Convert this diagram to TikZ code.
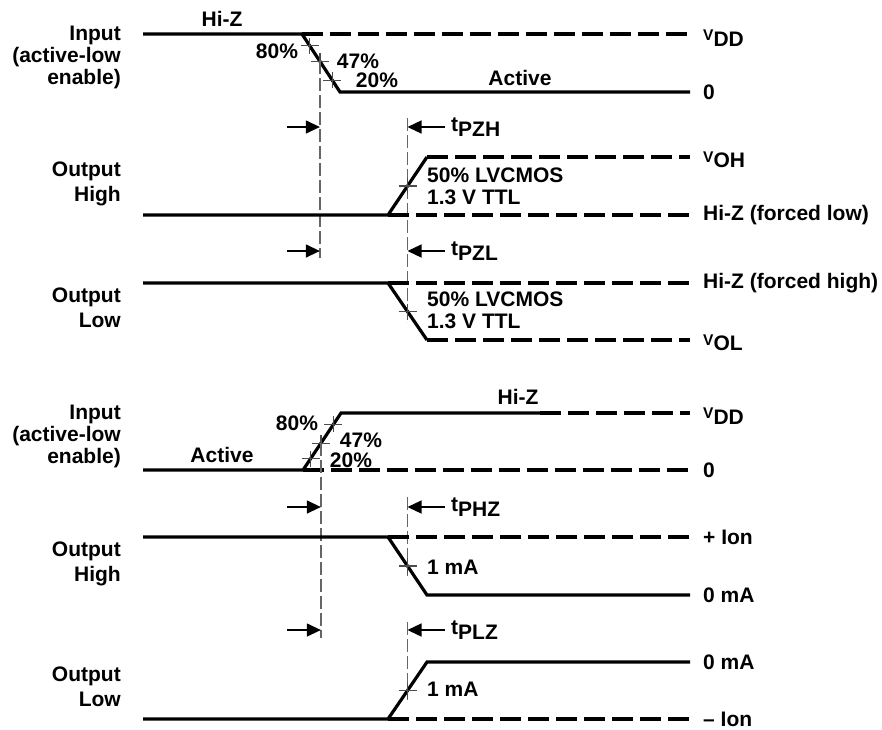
\documentclass[tikz,border=0pt]{standalone}
\usepackage{fontspec}
\setmainfont{Liberation Sans}
\usetikzlibrary{calc,arrows.meta}
\newcommand\lsub[1]{\raisebox{-5.5pt}{#1}}
\newcommand\smv{{\fontsize{15.5}{15.5}\selectfont V}}
\begin{document}
\begin{tikzpicture}[x=1pt,y=-1pt,
  wave/.style={line width=3.2pt, line join=miter},
  hiz/.style={line width=3.2pt, dash pattern=on 21pt off 7pt},
  guide/.style={line width=1.3pt, black!60, dash pattern=on 13pt off 4pt},
  tickmark/.style={line width=1.3pt, black!70},
  meas/.style={line width=1.3pt, -{Triangle[length=14pt,width=13pt]}},
  txt/.style={font=\fontsize{21}{22}\selectfont\bfseries, inner sep=0pt},
  lbl/.style={txt, align=right, anchor=east},
  lbltwo/.style={lbl, font=\fontsize{21}{25}\selectfont\bfseries},
  rlbl/.style={txt, anchor=west},
  xmark/.pic={\draw[tickmark] (-9,0) -- (9,0) (0,-8) -- (0,8);}
  ]
\useasboundingbox (0,0) rectangle (882,729);

% ================= Section 1: enable =================
% Input
\coordinate (i1s) at (143,34);
\coordinate (i1a) at (302,34);
\coordinate (i1b) at (340,92);
\coordinate (i1e) at (690,92);
\coordinate (i1d) at (690,34);
\draw[wave] (i1s) -- (i1a) -- (i1b) -- (i1e);
\draw[hiz] (i1a) -- (i1d);
\coordinate (i1p80) at ($(i1a)!0.2!(i1b)$);
\coordinate (i1p47) at ($(i1a)!0.47!(i1b)$);
\coordinate (i1p20) at ($(i1a)!0.8!(i1b)$);
\pic at (i1p80) {xmark};
\pic at (i1p47) {xmark};
\pic at (i1p20) {xmark};
\node[txt] (hiz1) at (222,19) {Hi-Z};
\node[txt] (p80a) at (277,51) {80\%};
\node[txt] (p47a) at (358,61) {47\%};
\node[txt] (p20a) at (377,80) {20\%};
\node[txt] (act1) at (520,78) {Active};
\node[rlbl] (vdd1) at (703,38) {\smv\lsub{DD}};
\node[rlbl] (zero1) at (703,92) {0};
\node[lbl] (in1) at (121,57) {Input\\(active-low\\enable)};

% guides
\coordinate (g1b) at (i1p47 |- 0,258);
\draw[guide] (i1p47) -- (g1b);
\coordinate (g2t) at (407.5,118);
\coordinate (g2b) at (407.5,322);
\draw[guide] (g2t) -- (g2b);

% arrows
\coordinate (a1s) at (287,127);
\coordinate (a1t) at (i1p47 |- a1s);
\draw[meas] (a1s) -- (a1t);
\coordinate (a2s) at (445,127);
\coordinate (a2t) at (g2t |- a2s);
\draw[meas] (a2s) -- (a2t);
\node[rlbl] (tpzh) at (451,127) {t\lsub{PZH}};
\coordinate (a3s) at (287,251);
\coordinate (a3t) at (i1p47 |- a3s);
\draw[meas] (a3s) -- (a3t);
\coordinate (a4s) at (445,251);
\coordinate (a4t) at (g2t |- a4s);
\draw[meas] (a4s) -- (a4t);
\node[rlbl] (tpzl) at (451,251) {t\lsub{PZL}};

% Output High (enable)
\coordinate (oh1s) at (143,215);
\coordinate (oh1a) at (388,215);
\coordinate (oh1b) at (427,157);
\coordinate (oh1e) at (690,157);
\coordinate (oh1f) at (690,215);
\draw[wave] (oh1s) -- (oh1a) -- (oh1b);
\draw[hiz] (oh1b) -- (oh1e);
\draw[hiz] (oh1a) -- (oh1f);
\pic at ($(oh1a)!0.5!(oh1b)$) {xmark};
\node[txt, anchor=west, align=left] (lv1) at (427,186.5) {50\% LVCMOS\\1.3 V TTL};
\node[rlbl] (voh) at (703,160) {\smv\lsub{OH}};
\node[rlbl] (hzl) at (703,215) {Hi-Z (forced low)};
\node[lbltwo] (oh1lab) at (121,184) {Output\\High};

% Output Low (enable)
\coordinate (ol1s) at (143,283);
\coordinate (ol1a) at (388,283);
\coordinate (ol1b) at (427,340);
\coordinate (ol1e) at (690,340);
\coordinate (ol1f) at (690,283);
\draw[wave] (ol1s) -- (ol1a) -- (ol1b);
\draw[hiz] (ol1b) -- (ol1e);
\draw[hiz] (ol1a) -- (ol1f);
\pic at ($(ol1a)!0.5!(ol1b)$) {xmark};
\node[txt, anchor=west, align=left] (lv2) at (427,310) {50\% LVCMOS\\1.3 V TTL};
\node[rlbl] (hzh) at (703,283) {Hi-Z (forced high)};
\node[rlbl] (vol) at (703,343) {\smv\lsub{OL}};
\node[lbltwo] (ol1lab) at (121,308) {Output\\Low};

% ================= Section 2: disable =================
\coordinate (i2s) at (143,470);
\coordinate (i2a) at (303,470);
\coordinate (i2b) at (341,413);
\coordinate (i2c) at (540,413);
\coordinate (i2d) at (690,413);
\coordinate (i2e) at (690,470);
\draw[wave] (i2s) -- (i2a) -- (i2b) -- (i2c);
\draw[hiz] (i2c) -- (i2d);
\draw[hiz] (i2a) -- (i2e);
\coordinate (i2p20) at ($(i2a)!0.2!(i2b)$);
\coordinate (i2p47) at ($(i2a)!0.47!(i2b)$);
\coordinate (i2p80) at ($(i2a)!0.8!(i2b)$);
\pic at (i2p20) {xmark};
\pic at (i2p47) {xmark};
\pic at (i2p80) {xmark};
\node[txt] (hiz2) at (518,397) {Hi-Z};
\node[txt] (p80b) at (297,423) {80\%};
\node[txt] (p47b) at (361,440) {47\%};
\node[txt] (p20b) at (351,460) {20\%};
\node[txt] (act2) at (222,455) {Active};
\node[rlbl] (vdd2) at (703,416) {\smv\lsub{DD}};
\node[rlbl] (zero2) at (703,470) {0};
\node[lbl] (in2) at (121,436) {Input\\(active-low\\enable)};

% guides
\coordinate (g3b) at (i2p47 |- 0,638);
\draw[guide] (i2p47) -- (g3b);
\coordinate (g4t) at (407.5,497);
\coordinate (g4b) at (407.5,576);
\draw[guide] (g4t) -- (g4b);
\coordinate (g5t) at (407.5,622);
\coordinate (g5b) at (407.5,700);
\draw[guide] (g5t) -- (g5b);

% arrows
\coordinate (b1s) at (287,507);
\coordinate (b1t) at (i2p47 |- b1s);
\draw[meas] (b1s) -- (b1t);
\coordinate (b2s) at (445,507);
\coordinate (b2t) at (g4t |- b2s);
\draw[meas] (b2s) -- (b2t);
\node[rlbl] (tphz) at (451,507) {t\lsub{PHZ}};
\coordinate (b3s) at (287,630);
\coordinate (b3t) at (i2p47 |- b3s);
\draw[meas] (b3s) -- (b3t);
\coordinate (b4s) at (445,630);
\coordinate (b4t) at (g5t |- b4s);
\draw[meas] (b4s) -- (b4t);
\node[rlbl] (tplz) at (451,630) {t\lsub{PLZ}};

% Output High (disable)
\coordinate (oh2s) at (143,537);
\coordinate (oh2a) at (388,537);
\coordinate (oh2b) at (427,595);
\coordinate (oh2e) at (690,595);
\coordinate (oh2f) at (690,537);
\draw[wave] (oh2s) -- (oh2a) -- (oh2b) -- (oh2e);
\draw[hiz] (oh2a) -- (oh2f);
\pic at ($(oh2a)!0.5!(oh2b)$) {xmark};
\node[rlbl] (ma1) at (427,567) {1 mA};
\node[rlbl] (pion) at (703,537) {+ Ion};
\node[rlbl] (zma1) at (703,595) {0 mA};
\node[lbltwo] (oh2lab) at (121,564) {Output\\High};

% Output Low (disable)
\coordinate (ol2s) at (143,719);
\coordinate (ol2a) at (388,719);
\coordinate (ol2b) at (427,662);
\coordinate (ol2e) at (690,662);
\coordinate (ol2f) at (690,719);
\draw[wave] (ol2s) -- (ol2a) -- (ol2b) -- (ol2e);
\draw[hiz] (ol2a) -- (ol2f);
\pic at ($(ol2a)!0.5!(ol2b)$) {xmark};
\node[rlbl] (ma2) at (427,689) {1 mA};
\node[rlbl] (zma2) at (703,662) {0 mA};
\node[rlbl] (mion) at (703,719) {\textendash{} Ion};
\node[lbltwo] (ol2lab) at (121,687) {Output\\Low};
\end{tikzpicture}
\end{document}
